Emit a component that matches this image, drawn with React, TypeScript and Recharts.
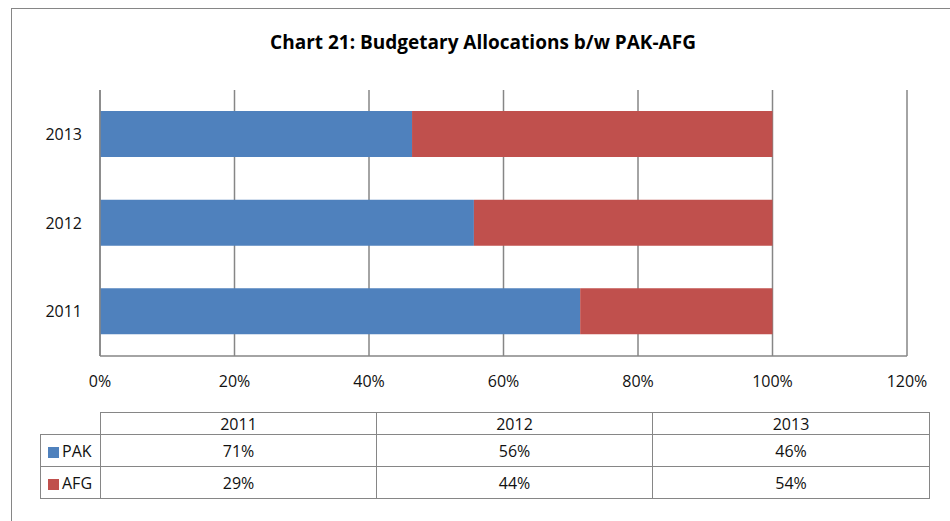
import React from "react";
import { BarChart, Bar, XAxis, YAxis, CartesianGrid } from "recharts";

const years = ["2011", "2012", "2013"];
const pakShare = [71.4, 55.6, 46.4];
const afgShare = [28.6, 44.4, 53.6];
const xTicks = [0, 20, 40, 60, 80, 100, 120];

const PAK_COLOR = "#4F81BD";
const AFG_COLOR = "#C0504D";
const LINE = "#868686";
const FONT = "'Open Sans', sans-serif";

const data = years.map((year, i) => ({ year, PAK: pakShare[i], AFG: afgShare[i] }));

const cell: React.CSSProperties = {
  border: `1px solid ${LINE}`,
  textAlign: "center",
  padding: 0,
};

function DataTable() {
  const rows = [
    { name: "PAK", color: PAK_COLOR, values: pakShare },
    { name: "AFG", color: AFG_COLOR, values: afgShare },
  ];
  return (
    <table
      style={{
        position: "absolute",
        left: 40,
        top: 412,
        width: 889,
        borderCollapse: "collapse",
        tableLayout: "fixed",
        fontFamily: FONT,
        fontSize: 16,
        color: "#111",
      }}
    >
      <colgroup>
        <col style={{ width: 60 }} />
        <col style={{ width: 276 }} />
        <col style={{ width: 276 }} />
        <col style={{ width: 277 }} />
      </colgroup>
      <tbody>
        <tr style={{ height: 22 }}>
          <td style={{ border: "none", padding: 0 }} />
          {years.map((y) => (
            <td key={y} style={{ ...cell, lineHeight: "20px" }}>{y}</td>
          ))}
        </tr>
        {rows.map((r) => (
          <tr key={r.name} style={{ height: 32 }}>
            <td style={{ ...cell, textAlign: "left", paddingLeft: 7 }}>
              <span
                style={{
                  display: "inline-block",
                  width: 11,
                  height: 11,
                  background: r.color,
                  marginRight: 3,
                  verticalAlign: -1,
                }}
              />
              {r.name}
            </td>
            {r.values.map((v, i) => (
              <td key={i} style={cell}>{Math.round(v)}%</td>
            ))}
          </tr>
        ))}
      </tbody>
    </table>
  );
}

export default function App() {
  return (
    <div
      style={{
        position: "absolute",
        left: 0,
        top: 0,
        width: 950,
        height: 521,
        overflow: "hidden",
        background: "#fff",
        fontFamily: FONT,
      }}
    >
      <div
        style={{
          position: "absolute",
          left: 11,
          top: 8,
          width: 1000,
          height: 600,
          border: `1px solid ${LINE}`,
        }}
      />
      <div
        style={{
          position: "absolute",
          left: 0,
          width: 966,
          top: 29,
          textAlign: "center",
          fontWeight: 700,
          fontSize: 19,
          color: "#000",
        }}
      >
        Chart 21: Budgetary Allocations b/w PAK-AFG
      </div>
      <div style={{ position: "absolute", left: 0, top: 0 }}>
        <BarChart
          width={950}
          height={521}
          data={data}
          layout="vertical"
          barSize={46}
          margin={{ top: 90, right: 43, bottom: 135, left: 0 }}
        >
          <CartesianGrid horizontal={false} stroke={LINE} strokeWidth={1.5} />
          <XAxis
            type="number"
            domain={[0, 120]}
            ticks={xTicks}
            interval={0}
            tickFormatter={(v) => `${v}%`}
            tickLine={false}
            tickSize={0}
            tickMargin={20}
            height={30}
            axisLine={{ stroke: LINE, strokeWidth: 1.5 }}
            tick={{ fill: "#111", fontSize: 16, fontFamily: FONT }}
          />
          <YAxis
            type="category"
            dataKey="year"
            reversed
            width={100}
            tickLine={false}
            tickSize={0}
            tickMargin={18}
            axisLine={{ stroke: LINE, strokeWidth: 1.5 }}
            tick={{ fill: "#111", fontSize: 16, fontFamily: FONT }}
          />
          <Bar dataKey="PAK" stackId="a" fill={PAK_COLOR} isAnimationActive={false} />
          <Bar dataKey="AFG" stackId="a" fill={AFG_COLOR} isAnimationActive={false} />
        </BarChart>
      </div>
      <DataTable />
    </div>
  );
}
